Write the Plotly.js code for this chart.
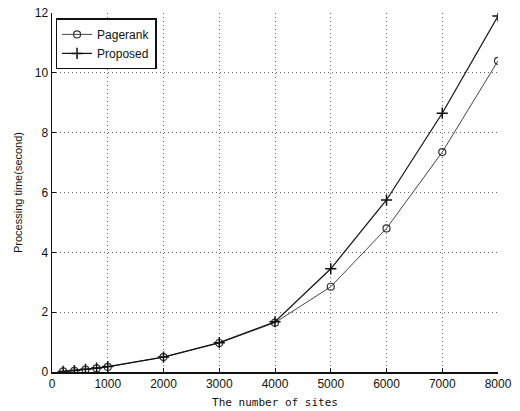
<!DOCTYPE html>
<html><head><meta charset="utf-8">
<script src="https://cdn.plot.ly/plotly-3.0.1.min.js"></script>
<style>html,body{margin:0;padding:0;background:#fff}</style>
</head><body><div id="chart" style="width:520px;height:411px"></div>
<script>
const sites = [200, 400, 600, 800, 1000, 2000, 3000, 4000, 5000, 6000, 7000, 8000];
const pagerank = [0.02, 0.04, 0.08, 0.12, 0.17, 0.5, 0.97, 1.65, 2.85, 4.8, 7.35, 10.4];
const proposed = [0.02, 0.05, 0.09, 0.13, 0.18, 0.5, 0.98, 1.68, 3.45, 5.75, 8.65, 11.9];
const xTicks = [0, 1000, 2000, 3000, 4000, 5000, 6000, 7000, 8000];
const yTicks = [0, 2, 4, 6, 8, 10, 12];

const traces = [
  {x: sites, y: pagerank, name: 'Pagerank', mode: 'lines+markers', type: 'scatter',
   line: {color: '#444', width: 1}, marker: {symbol: 'circle-open', size: 7, color: '#333', line: {width: 1.2}}},
  {x: sites, y: proposed, name: 'Proposed', mode: 'lines+markers', type: 'scatter',
   line: {color: '#111', width: 1.2}, marker: {symbol: 'cross-thin-open', size: 8, color: '#111', line: {width: 1.5, color: '#111'}}}
];
const layout = {
  width: 520, height: 411,
  margin: {l: 52, r: 22, t: 13, b: 39},
  paper_bgcolor: '#fff', plot_bgcolor: '#fff',
  font: {family: 'Liberation Sans, Arial, sans-serif', color: '#111', size: 12},
  showlegend: true,
  legend: {x: 0.008, y: 0.985, xanchor: 'left', yanchor: 'top', bordercolor: '#111', borderwidth: 1.5,
           bgcolor: '#fff', font: {size: 12, color: '#111'}, itemwidth: 30, tracegroupgap: 0},
  xaxis: {range: [0, 8000], tickvals: xTicks, ticktext: xTicks.map(String), showgrid: true,
          gridcolor: '#666', griddash: '1px,3px', gridwidth: 1, zeroline: false,
          showline: true, linecolor: '#111', linewidth: 1.5, ticks: 'inside', ticklen: 4, tickcolor: '#111',
          title: {text: 'The number of sites', font: {family: 'DejaVu Sans Mono, monospace', size: 11, color: '#111'}, standoff: 8},
          tickfont: {size: 12, color: '#111'}},
  yaxis: {range: [0, 12], tickvals: yTicks, ticktext: yTicks.map(String), showgrid: true,
          gridcolor: '#666', griddash: '1px,3px', gridwidth: 1, zeroline: false,
          showline: true, linecolor: '#111', linewidth: 1.5, ticks: 'inside', ticklen: 4, tickcolor: '#111',
          title: {text: 'Processing time(second)', font: {size: 11, color: '#111'}, standoff: 10},
          tickfont: {size: 12, color: '#111'}}
};
Plotly.newPlot('chart', traces, layout, {displayModeBar: false, staticPlot: true});
</script></body></html>
